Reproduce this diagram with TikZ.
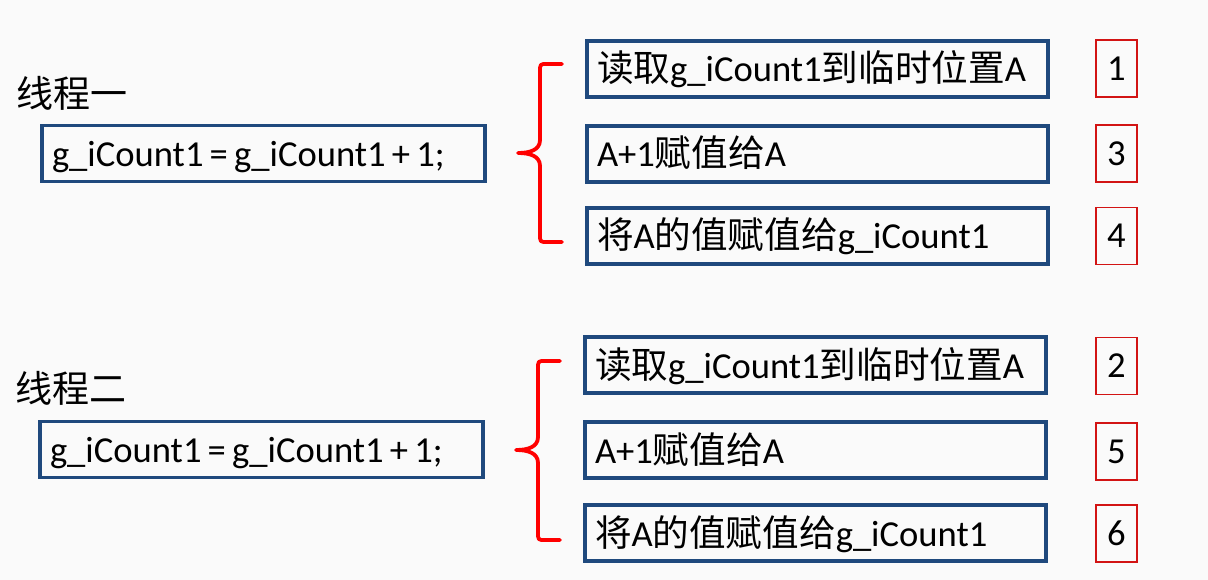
\documentclass[tikz,border=0pt]{standalone}
\usepackage{fontspec}
\setmainfont{Carlito}
\newfontfamily\cjk{Noto Sans CJK SC}
\definecolor{boxblue}{RGB}{31,73,125}
\definecolor{numred}{RGB}{210,20,20}
\definecolor{bg}{RGB}{250,250,250}
\newcommand{\zh}[1]{{\cjk #1}}
\newcommand{\tightspaces}{\spaceskip=6.2pt\relax}
\begin{document}
\begin{tikzpicture}[x=1pt,y=-1pt,
  txt/.style={font=\fontsize{36.6}{44}\selectfont},
  bluebox/.style={txt,draw=boxblue,line width=3.6pt,minimum height=56pt,inner xsep=10pt,inner ysep=0pt,
    text height=30pt,text depth=4pt,align=left,anchor=center,execute at begin node=\tightspaces},
  mainbox/.style={bluebox,minimum width=443pt,text width=423pt},
  stepbox/.style={bluebox,minimum width=461pt,text width=441pt},
  numbox/.style={txt,draw=numred,line width=1.4pt,minimum width=41pt,minimum height=57pt,inner sep=0pt},
  title/.style={font=\fontsize{37}{44}\selectfont\cjk,anchor=west,inner sep=0pt},
  brace/.style={draw=red,line width=3.8pt,line cap=round,line join=round}]
\fill[bg] (0,0) rectangle (1208,580);
\useasboundingbox (0,0) rectangle (1208,580);

% Thread one
\node[title] (t1) at (16,93) {线程一};
\node[mainbox] (m1) at (263.5,153.5) {g\_iCount1 = g\_iCount1 + 1;};
\node[stepbox] (a1) at (817.5,69) {\zh{读取}g\_iCount1\zh{到临时位置}A};
\node[stepbox] (a2) at (817.5,154) {A+1\zh{赋值给}A};
\node[stepbox] (a3) at (817.5,236) {\zh{将}A\zh{的值赋值给}g\_iCount1};
\node[numbox] (n1) at (1116.5,68.5) {1};
\node[numbox] (n3) at (1116.5,153.5) {3};
\node[numbox] (n4) at (1116.5,236) {4};
\draw[brace] (562,64) -- (547,64) .. controls (540,64) .. (540,72) -- (540,140)
  .. controls (540,150) and (530,153) .. (518,153)
  .. controls (530,153) and (540,156) .. (540,166) -- (540,234)
  .. controls (540,242) .. (547,242) -- (562,242);

% Thread two
\node[title] (t2) at (15,388) {线程二};
\node[mainbox] (m2) at (261.5,449.5) {g\_iCount1 = g\_iCount1 + 1;};
\node[stepbox] (b1) at (815.5,365) {\zh{读取}g\_iCount1\zh{到临时位置}A};
\node[stepbox] (b2) at (815.5,450) {A+1\zh{赋值给}A};
\node[stepbox] (b3) at (815.5,533) {\zh{将}A\zh{的值赋值给}g\_iCount1};
\node[numbox] (n2) at (1116.5,366) {2};
\node[numbox] (n5) at (1116.5,451.5) {5};
\node[numbox] (n6) at (1116.5,533.5) {6};
\draw[brace] (560,361) -- (545,361) .. controls (538,361) .. (538,369) -- (538,437)
  .. controls (538,447) and (528,450) .. (516,450)
  .. controls (528,450) and (538,453) .. (538,463) -- (538,532)
  .. controls (538,540) .. (545,540) -- (560,540);
\end{tikzpicture}
\end{document}
